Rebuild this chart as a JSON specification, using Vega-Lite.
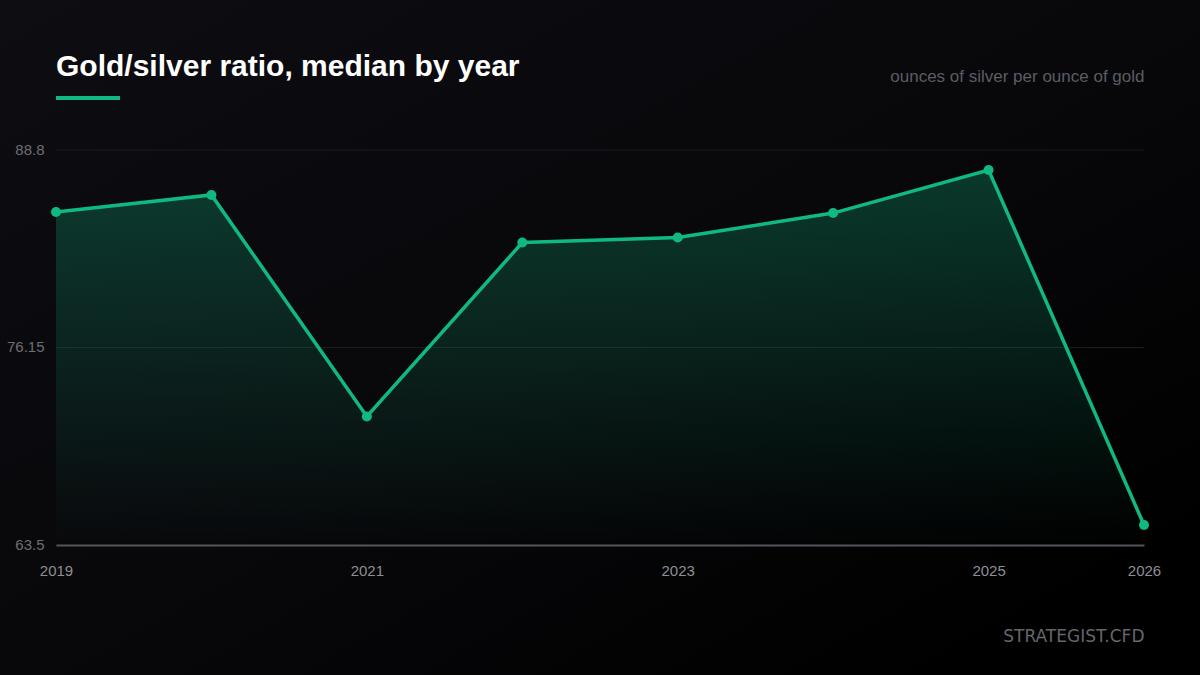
{
  "$schema": "https://vega.github.io/schema/vega-lite/v6.json",
  "width": 1088,
  "height": 395,
  "autosize": {"type": "none"},
  "padding": {"left": 56, "top": 150, "right": 56, "bottom": 130},
  "background": "#060608",
  "title": {
    "text": "Gold/silver ratio, median by year",
    "anchor": "start",
    "frame": "group",
    "font": "Liberation Sans",
    "fontSize": 30,
    "fontWeight": "bold",
    "color": "#ffffff",
    "offset": -82
  },
  "datasets": {
    "ratio": [
      {"year": 2019, "ratio": 84.83},
      {"year": 2020, "ratio": 85.92},
      {"year": 2021, "ratio": 71.73},
      {"year": 2022, "ratio": 82.87},
      {"year": 2023, "ratio": 83.2},
      {"year": 2024, "ratio": 84.76},
      {"year": 2025, "ratio": 87.52},
      {"year": 2026, "ratio": 64.78}
    ],
    "grid": [
      {"level": 76.15},
      {"level": 88.8}
    ],
    "accent": [
      {"from": 2019, "to": 2019.412, "level": 92.13}
    ]
  },
  "layer": [
    {
      "data": {"values": [{"band": "page"}]},
      "mark": {
        "type": "rect",
        "fill": {
          "gradient": "linear",
          "x1": 0, "y1": 0, "x2": 1, "y2": 1,
          "stops": [
            {"offset": 0, "color": "#0d0d12"},
            {"offset": 0.5, "color": "#08080b"},
            {"offset": 0.9, "color": "#000000"},
            {"offset": 1, "color": "#000000"}
          ]
        }
      },
      "encoding": {
        "x": {"datum": 2018.6397, "type": "quantitative"},
        "x2": {"datum": 2026.3603},
        "y": {"datum": 98.407, "type": "quantitative"},
        "y2": {"datum": 55.174}
      }
    },
    {
      "data": {"name": "grid"},
      "mark": {"type": "rule", "color": "#1b1b20", "strokeWidth": 1},
      "encoding": {
        "x": {"datum": 2019, "type": "quantitative"},
        "x2": {"datum": 2026},
        "y": {"field": "level", "type": "quantitative"}
      }
    },
    {
      "data": {"name": "ratio"},
      "encoding": {
        "x": {
          "field": "year",
          "type": "quantitative",
          "scale": {"domain": [2019, 2026], "nice": false, "zero": false},
          "axis": {
            "values": [2019, 2021, 2023, 2025, 2026],
            "format": "d",
            "grid": false,
            "ticks": false,
            "domain": true,
            "domainColor": "#55555c",
            "domainWidth": 2,
            "zindex": 1,
            "labelFont": "Liberation Sans",
            "labelFontSize": 15,
            "labelColor": "#8e8e95",
            "labelPadding": 18,
            "labelFlush": false,
            "labelBound": false,
            "labelOverlap": false,
            "title": "STRATEGIST.CFD",
            "titleFont": "DejaVu Sans",
            "titleFontSize": 17,
            "titleFontWeight": "normal",
            "titleColor": "#66666d",
            "titleAlign": "right",
            "titleBaseline": "alphabetic",
            "titleX": 1088,
            "titleY": 96
          }
        },
        "y": {
          "field": "ratio",
          "type": "quantitative",
          "scale": {"domain": [63.5, 88.8], "nice": false, "zero": false},
          "axis": {
            "values": [63.5, 76.15, 88.8],
            "labelExpr": "format(datum.value, '.4~f')",
            "grid": false,
            "ticks": false,
            "domain": false,
            "zindex": 1,
            "labelFont": "Liberation Sans",
            "labelFontSize": 15,
            "labelColor": "#6e6e75",
            "labelPadding": 12,
            "labelOffset": -1,
            "title": "ounces of silver per ounce of gold",
            "titleFont": "Liberation Sans",
            "titleFontSize": 17,
            "titleFontWeight": "normal",
            "titleColor": "#5c5c63",
            "titleAngle": 0,
            "titleAlign": "right",
            "titleBaseline": "alphabetic",
            "titleX": 1088,
            "titleY": -69
          }
        }
      },
      "layer": [
        {
          "mark": {
            "type": "area",
            "fill": {
              "gradient": "linear",
              "x1": 0, "y1": 0, "x2": 0, "y2": 1,
              "stops": [
                {"offset": 0, "color": "rgba(16,185,129,0.28)"},
                {"offset": 1, "color": "rgba(16,185,129,0)"}
              ]
            }
          },
          "encoding": {"y2": {"datum": 63.5}}
        },
        {
          "mark": {"type": "line", "color": "#10b981", "strokeWidth": 3.5}
        },
        {
          "mark": {"type": "circle", "color": "#10b981", "opacity": 1, "size": 100}
        }
      ]
    },
    {
      "data": {"name": "accent"},
      "mark": {"type": "rule", "color": "#10b981", "strokeWidth": 4},
      "encoding": {
        "x": {"field": "from", "type": "quantitative"},
        "x2": {"field": "to"},
        "y": {"field": "level", "type": "quantitative"}
      }
    }
  ],
  "config": {"view": {"stroke": null}}
}
